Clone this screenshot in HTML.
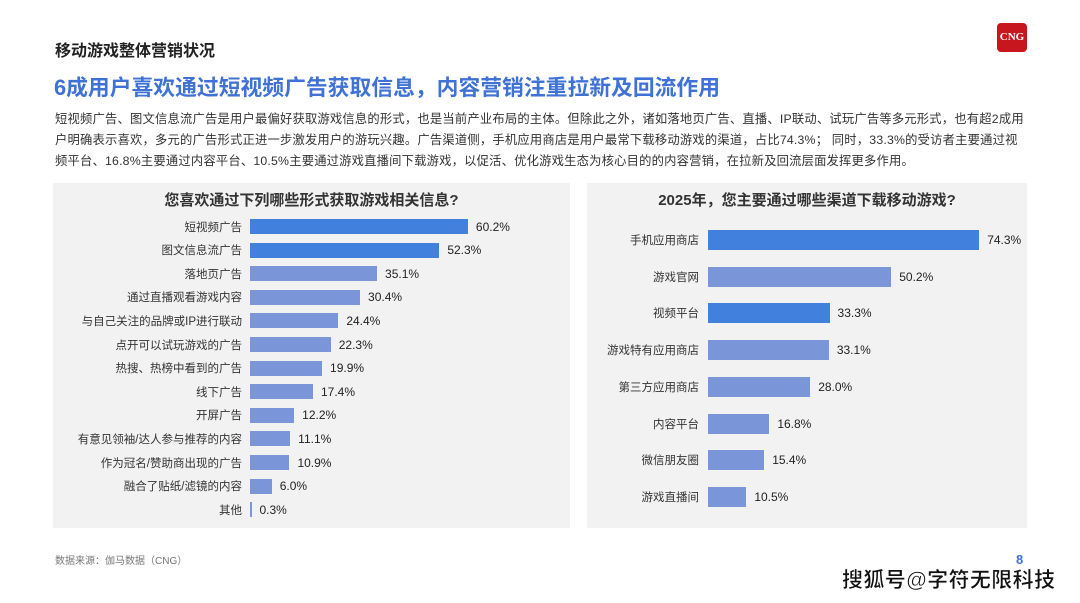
<!DOCTYPE html>
<html><head><meta charset="utf-8"><style>
body{margin:0;width:1080px;height:603px;background:#fff;position:relative;overflow:hidden;font-family:"Liberation Sans","Noto Sans CJK SC",sans-serif;color:#222}
.a{position:absolute;white-space:nowrap}
.panel{position:absolute;background:#f2f2f2}
.lab{position:absolute;font-size:11.5px;color:#333;text-align:right;white-space:nowrap;transform:translateY(-50%)}
.bar{position:absolute}
.val{position:absolute;font-size:12px;color:#222;transform:translateY(-50%);white-space:nowrap}
</style></head><body>
<div class="a" style="left:55px;top:37px;font-size:16px;font-weight:bold;color:#222">移动游戏整体营销状况</div>
<div class="a" style="left:997px;top:23px;width:30px;height:29px;background:#c8161e;border-radius:4px;color:#fff;font-size:11px;font-weight:bold;text-align:center;line-height:29px;font-family:'Liberation Serif',serif">CNG</div>
<div class="a" style="left:54px;top:71px;font-size:21.8px;font-weight:bold;color:#3f72d4">6成用户喜欢通过短视频广告获取信息，内容营销注重拉新及回流作用</div>
<div class="a" style="left:55px;top:109px;font-size:12.3px;line-height:21px;color:#333;letter-spacing:0.2px">短视频广告、图文信息流广告是用户最偏好获取游戏信息的形式，也是当前产业布局的主体。但除此之外，诸如落地页广告、直播、IP联动、试玩广告等多元形式，也有超2成用<br>户明确表示喜欢，多元的广告形式正进一步激发用户的游玩兴趣。广告渠道侧，手机应用商店是用户最常下载移动游戏的渠道，占比74.3%； 同时，33.3%的受访者主要通过视<br>频平台、16.8%主要通过内容平台、10.5%主要通过游戏直播间下载游戏，以促活、优化游戏生态为核心目的的内容营销，在拉新及回流层面发挥更多作用。</div>

<div class="panel" style="left:53px;top:183px;width:517px;height:345px"></div>
<div class="a" style="left:53px;width:517px;text-align:center;top:189px;font-size:15px;font-weight:bold;color:#333">您喜欢通过下列哪些形式获取游戏相关信息?</div>

<div class="panel" style="left:587px;top:183px;width:440px;height:345px"></div>
<div class="a" style="left:587px;width:440px;text-align:center;top:189px;font-size:15px;font-weight:bold;color:#333">2025年，您主要通过哪些渠道下载移动游戏?</div>

<div id="L"></div><div id="R"></div>
<div class="a" style="left:55px;top:552px;font-size:10px;color:#777">数据来源：伽马数据（CNG）</div>
<div class="a" style="left:1016px;top:552px;font-size:13px;font-weight:bold;color:#3f72d4">8</div>
<div class="a" style="left:842px;top:564px;font-size:21px;letter-spacing:0.4px;font-weight:bold;color:#111;-webkit-text-stroke:0.5px #fff">搜狐号@字符无限科技</div>
<script>
var L=[["短视频广告",60.2,1],["图文信息流广告",52.3,1],["落地页广告",35.1],["通过直播观看游戏内容",30.4],["与自己关注的品牌或IP进行联动",24.4],["点开可以试玩游戏的广告",22.3],["热搜、热榜中看到的广告",19.9],["线下广告",17.4],["开屏广告",12.2],["有意见领袖/达人参与推荐的内容",11.1],["作为冠名/赞助商出现的广告",10.9],["融合了贴纸/滤镜的内容",6.0],["其他",0.3]];
var R=[["手机应用商店",74.3,1],["游戏官网",50.2],["视频平台",33.3,1],["游戏特有应用商店",33.1],["第三方应用商店",28.0],["内容平台",16.8],["微信朋友圈",15.4],["游戏直播间",10.5]];
function draw(d,x0,y0,p,h,s,lr){var o="";d.forEach(function(r,i){var y=y0+i*p,w=Math.max(r[1]*s,1.5),c=r[2]?"#4180dc":"#7b96d8";
o+='<div class="lab" style="right:'+(1080-lr)+'px;top:'+y+'px">'+r[0]+'</div>';
o+='<div class="bar" style="left:'+x0+'px;top:'+(y-h/2)+'px;width:'+w+'px;height:'+h+'px;background:'+c+'"></div>';
o+='<div class="val" style="left:'+(x0+w+8)+'px;top:'+y+'px">'+r[1].toFixed(1)+'%</div>';});return o;}
document.getElementById("L").innerHTML=draw(L,250,226.5,23.6,15,3.62,242);
document.getElementById("R").innerHTML=draw(R,708,240,36.7,20,3.65,699);
</script>
</body></html>
